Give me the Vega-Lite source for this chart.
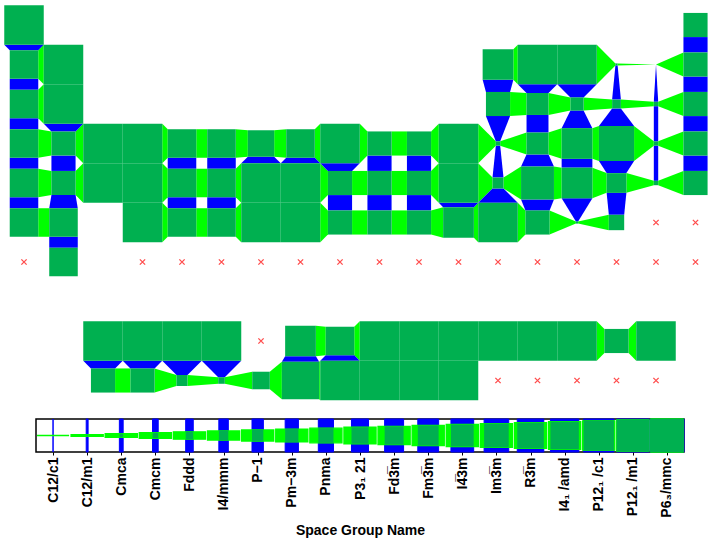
{
  "$schema": "https://vega.github.io/schema/vega-lite/v6.json",
  "padding": 0,
  "config": {"view": {"stroke": null}, "font": "Liberation Sans"},
  "datasets": {
    "sgs": [
      {"sg": "C12/c1", "k": 0}, {"sg": "C12/m1", "k": 1}, {"sg": "Cmca", "k": 2}, {"sg": "Cmcm", "k": 3},
      {"sg": "Fddd", "k": 4}, {"sg": "I4/mmm", "k": 5}, {"sg": "P-1", "k": 6}, {"sg": "Pm-3m", "k": 7},
      {"sg": "Pnma", "k": 8}, {"sg": "P3_121", "k": 9}, {"sg": "Fd-3m", "k": 10}, {"sg": "Fm-3m", "k": 11},
      {"sg": "I-43m", "k": 12}, {"sg": "Im-3m", "k": 13}, {"sg": "R-3m", "k": 14}, {"sg": "I4_1/amd", "k": 15},
      {"sg": "P12_1/c1", "k": 16}, {"sg": "P12_1/m1", "k": 17}, {"sg": "P6_3/mmc", "k": 18}
    ],
    "el": [
      {"e": "H", "c": 1, "r": 1, "sg": "P6_3/mmc"},
      {"e": "He", "c": 18, "r": 1, "sg": "Fm-3m"},
      {"e": "Li", "c": 1, "r": 2, "sg": "Im-3m"},
      {"e": "Be", "c": 2, "r": 2, "sg": "P6_3/mmc"},
      {"e": "B", "c": 13, "r": 2, "sg": "R-3m"},
      {"e": "C", "c": 14, "r": 2, "sg": "P6_3/mmc"},
      {"e": "N", "c": 15, "r": 2, "sg": "P6_3/mmc"},
      {"e": "O", "c": 16, "r": 2, "sg": "C12/m1"},
      {"e": "F", "c": 17, "r": 2, "sg": "C12/c1"},
      {"e": "Ne", "c": 18, "r": 2, "sg": "Fm-3m"},
      {"e": "Na", "c": 1, "r": 3, "sg": "Im-3m"},
      {"e": "Mg", "c": 2, "r": 3, "sg": "P6_3/mmc"},
      {"e": "Al", "c": 13, "r": 3, "sg": "Fm-3m"},
      {"e": "Si", "c": 14, "r": 3, "sg": "Fd-3m"},
      {"e": "P", "c": 15, "r": 3, "sg": "P-1"},
      {"e": "S", "c": 16, "r": 3, "sg": "Fddd"},
      {"e": "Cl", "c": 17, "r": 3, "sg": "Cmca"},
      {"e": "Ar", "c": 18, "r": 3, "sg": "Fm-3m"},
      {"e": "K", "c": 1, "r": 4, "sg": "Im-3m"},
      {"e": "Ca", "c": 2, "r": 4, "sg": "Fm-3m"},
      {"e": "Sc", "c": 3, "r": 4, "sg": "P6_3/mmc"},
      {"e": "Ti", "c": 4, "r": 4, "sg": "P6_3/mmc"},
      {"e": "V", "c": 5, "r": 4, "sg": "Im-3m"},
      {"e": "Cr", "c": 6, "r": 4, "sg": "Im-3m"},
      {"e": "Mn", "c": 7, "r": 4, "sg": "I-43m"},
      {"e": "Fe", "c": 8, "r": 4, "sg": "Im-3m"},
      {"e": "Co", "c": 9, "r": 4, "sg": "P6_3/mmc"},
      {"e": "Ni", "c": 10, "r": 4, "sg": "Fm-3m"},
      {"e": "Cu", "c": 11, "r": 4, "sg": "Fm-3m"},
      {"e": "Zn", "c": 12, "r": 4, "sg": "P6_3/mmc"},
      {"e": "Ga", "c": 13, "r": 4, "sg": "Cmca"},
      {"e": "Ge", "c": 14, "r": 4, "sg": "Fd-3m"},
      {"e": "As", "c": 15, "r": 4, "sg": "R-3m"},
      {"e": "Se", "c": 16, "r": 4, "sg": "P12_1/c1"},
      {"e": "Br", "c": 17, "r": 4, "sg": "Cmca"},
      {"e": "Kr", "c": 18, "r": 4, "sg": "Fm-3m"},
      {"e": "Rb", "c": 1, "r": 5, "sg": "Im-3m"},
      {"e": "Sr", "c": 2, "r": 5, "sg": "Fm-3m"},
      {"e": "Y", "c": 3, "r": 5, "sg": "P6_3/mmc"},
      {"e": "Zr", "c": 4, "r": 5, "sg": "P6_3/mmc"},
      {"e": "Nb", "c": 5, "r": 5, "sg": "Im-3m"},
      {"e": "Mo", "c": 6, "r": 5, "sg": "Im-3m"},
      {"e": "Tc", "c": 7, "r": 5, "sg": "P6_3/mmc"},
      {"e": "Ru", "c": 8, "r": 5, "sg": "P6_3/mmc"},
      {"e": "Rh", "c": 9, "r": 5, "sg": "Fm-3m"},
      {"e": "Pd", "c": 10, "r": 5, "sg": "Fm-3m"},
      {"e": "Ag", "c": 11, "r": 5, "sg": "Fm-3m"},
      {"e": "Cd", "c": 12, "r": 5, "sg": "P6_3/mmc"},
      {"e": "In", "c": 13, "r": 5, "sg": "I4/mmm"},
      {"e": "Sn", "c": 14, "r": 5, "sg": "I4_1/amd"},
      {"e": "Sb", "c": 15, "r": 5, "sg": "R-3m"},
      {"e": "Te", "c": 16, "r": 5, "sg": "P3_121"},
      {"e": "I", "c": 17, "r": 5, "sg": "Cmca"},
      {"e": "Xe", "c": 18, "r": 5, "sg": "Fm-3m"},
      {"e": "Cs", "c": 1, "r": 6, "sg": "Im-3m"},
      {"e": "Ba", "c": 2, "r": 6, "sg": "Im-3m"},
      {"e": "Hf", "c": 4, "r": 6, "sg": "P6_3/mmc"},
      {"e": "Ta", "c": 5, "r": 6, "sg": "Im-3m"},
      {"e": "W", "c": 6, "r": 6, "sg": "Im-3m"},
      {"e": "Re", "c": 7, "r": 6, "sg": "P6_3/mmc"},
      {"e": "Os", "c": 8, "r": 6, "sg": "P6_3/mmc"},
      {"e": "Ir", "c": 9, "r": 6, "sg": "Fm-3m"},
      {"e": "Pt", "c": 10, "r": 6, "sg": "Fm-3m"},
      {"e": "Au", "c": 11, "r": 6, "sg": "Fm-3m"},
      {"e": "Hg", "c": 12, "r": 6, "sg": "R-3m"},
      {"e": "Tl", "c": 13, "r": 6, "sg": "P6_3/mmc"},
      {"e": "Pb", "c": 14, "r": 6, "sg": "Fm-3m"},
      {"e": "Bi", "c": 15, "r": 6, "sg": "C12/m1"},
      {"e": "Po", "c": 16, "r": 6, "sg": "Pm-3m"},
      {"e": "Ra", "c": 2, "r": 7, "sg": "Im-3m"},
      {"e": "La", "c": 3, "r": 9, "sg": "P6_3/mmc"},
      {"e": "Ce", "c": 4, "r": 9, "sg": "P6_3/mmc"},
      {"e": "Pr", "c": 5, "r": 9, "sg": "P6_3/mmc"},
      {"e": "Nd", "c": 6, "r": 9, "sg": "P6_3/mmc"},
      {"e": "Sm", "c": 8, "r": 9, "sg": "R-3m"},
      {"e": "Eu", "c": 9, "r": 9, "sg": "Im-3m"},
      {"e": "Gd", "c": 10, "r": 9, "sg": "P6_3/mmc"},
      {"e": "Tb", "c": 11, "r": 9, "sg": "P6_3/mmc"},
      {"e": "Dy", "c": 12, "r": 9, "sg": "P6_3/mmc"},
      {"e": "Ho", "c": 13, "r": 9, "sg": "P6_3/mmc"},
      {"e": "Er", "c": 14, "r": 9, "sg": "P6_3/mmc"},
      {"e": "Tm", "c": 15, "r": 9, "sg": "P6_3/mmc"},
      {"e": "Yb", "c": 16, "r": 9, "sg": "Fm-3m"},
      {"e": "Lu", "c": 17, "r": 9, "sg": "P6_3/mmc"},
      {"e": "Ac", "c": 3, "r": 10, "sg": "Fm-3m"},
      {"e": "Th", "c": 4, "r": 10, "sg": "Fm-3m"},
      {"e": "Pa", "c": 5, "r": 10, "sg": "I4/mmm"},
      {"e": "U", "c": 6, "r": 10, "sg": "Cmcm"},
      {"e": "Np", "c": 7, "r": 10, "sg": "Pnma"},
      {"e": "Pu", "c": 8, "r": 10, "sg": "P12_1/m1"},
      {"e": "Am", "c": 9, "r": 10, "sg": "P6_3/mmc"},
      {"e": "Cm", "c": 10, "r": 10, "sg": "P6_3/mmc"},
      {"e": "Bk", "c": 11, "r": 10, "sg": "P6_3/mmc"},
      {"e": "Cf", "c": 12, "r": 10, "sg": "P6_3/mmc"}
    ],
    "miss": [
      {"e": "At", "c": 17, "r": 6}, {"e": "Rn", "c": 18, "r": 6},
      {"e": "Fr", "c": 1, "r": 7}, {"e": "Rf", "c": 4, "r": 7}, {"e": "Db", "c": 5, "r": 7},
      {"e": "Sg", "c": 6, "r": 7}, {"e": "Bh", "c": 7, "r": 7}, {"e": "Hs", "c": 8, "r": 7},
      {"e": "Mt", "c": 9, "r": 7}, {"e": "Ds", "c": 10, "r": 7}, {"e": "Rg", "c": 11, "r": 7},
      {"e": "Cn", "c": 12, "r": 7}, {"e": "Nh", "c": 13, "r": 7}, {"e": "Fl", "c": 14, "r": 7},
      {"e": "Mc", "c": 15, "r": 7}, {"e": "Lv", "c": 16, "r": 7}, {"e": "Ts", "c": 17, "r": 7},
      {"e": "Og", "c": 18, "r": 7},
      {"e": "Pm", "c": 7, "r": 9},
      {"e": "Es", "c": 13, "r": 10}, {"e": "Fm", "c": 14, "r": 10}, {"e": "Md", "c": 15, "r": 10},
      {"e": "No", "c": 16, "r": 10}, {"e": "Lr", "c": 17, "r": 10}
    ]
  },
  "vconcat": [
    {
      "width": 720,
      "height": 405,
      "layer": [
        {
          "data": {"name": "el"},
          "transform": [
            {"lookup": "sg", "from": {"data": {"name": "sgs"}, "key": "sg", "fields": ["k"]}},
            {"window": [{"op": "lead", "field": "c", "as": "c2"}, {"op": "lead", "field": "k", "as": "k2"}], "groupby": ["r"], "sort": [{"field": "c", "order": "ascending"}]},
            {"filter": "datum.c2 == datum.c + 1"},
            {"calculate": "datum.c + datum.k / 36", "as": "xa"},
            {"calculate": "datum.c2 - datum.k2 / 36", "as": "xb"},
            {"fold": ["xa", "xb"], "as": ["end", "xv"]},
            {"calculate": "(datum.end == 'xa' ? datum.k : datum.k2) / 36", "as": "h"},
            {"calculate": "datum.r - datum.h", "as": "ya"},
            {"calculate": "datum.r + datum.h", "as": "yb"}
          ],
          "mark": {"type": "area", "orient": "vertical", "color": "#00ff00", "opacity": 1},
          "encoding": {
            "x": {"field": "xv", "type": "quantitative", "scale": {"domain": [0.3924, 18.62], "nice": false, "zero": false}, "axis": null},
            "y": {"field": "ya", "type": "quantitative", "stack": null, "scale": {"domain": [0.3671, 10.6203], "nice": false, "zero": false, "reverse": true}, "axis": null},
            "y2": {"field": "yb"},
            "detail": {"field": "e"}
          }
        },
        {
          "data": {"name": "el"},
          "transform": [
            {"lookup": "sg", "from": {"data": {"name": "sgs"}, "key": "sg", "fields": ["k"]}},
            {"window": [{"op": "lead", "field": "r", "as": "r2"}, {"op": "lead", "field": "k", "as": "k2"}], "groupby": ["c"], "sort": [{"field": "r", "order": "ascending"}]},
            {"filter": "datum.r2 == datum.r + 1"},
            {"calculate": "datum.r + datum.k / 36", "as": "ya"},
            {"calculate": "datum.r2 - datum.k2 / 36", "as": "yb"},
            {"fold": ["ya", "yb"], "as": ["end", "yv"]},
            {"calculate": "(datum.end == 'ya' ? datum.k : datum.k2) / 36", "as": "h"},
            {"calculate": "datum.c - datum.h", "as": "xa"},
            {"calculate": "datum.c + datum.h", "as": "xb"}
          ],
          "mark": {"type": "area", "orient": "horizontal", "color": "#0000ff", "opacity": 1},
          "encoding": {
            "y": {"field": "yv", "type": "quantitative", "scale": {"domain": [0.3671, 10.6203], "nice": false, "zero": false, "reverse": true}, "axis": null},
            "x": {"field": "xa", "type": "quantitative", "stack": null, "scale": {"domain": [0.3924, 18.62], "nice": false, "zero": false}, "axis": null},
            "x2": {"field": "xb"},
            "detail": {"field": "e"}
          }
        },
        {
          "data": {"name": "el"},
          "transform": [
            {"lookup": "sg", "from": {"data": {"name": "sgs"}, "key": "sg", "fields": ["k"]}},
            {"calculate": "datum.k / 36", "as": "h"},
            {"calculate": "datum.c - datum.h", "as": "x0"},
            {"calculate": "datum.c + datum.h", "as": "x1"},
            {"calculate": "datum.r - datum.h", "as": "y0"},
            {"calculate": "datum.r + datum.h", "as": "y1"}
          ],
          "mark": {"type": "rect", "color": "#00b050", "opacity": 1},
          "encoding": {
            "x": {"field": "x0", "type": "quantitative", "scale": {"domain": [0.3924, 18.62], "nice": false, "zero": false}, "axis": null},
            "x2": {"field": "x1"},
            "y": {"field": "y0", "type": "quantitative", "scale": {"domain": [0.3671, 10.6203], "nice": false, "zero": false, "reverse": true}, "axis": null},
            "y2": {"field": "y1"}
          }
        },
        {
          "data": {"name": "miss"},
          "mark": {"type": "point", "shape": "M-1,-1L1,1M1,-1L-1,1", "size": 28, "filled": false, "stroke": "#ff4d4d", "strokeWidth": 1.3, "opacity": 1},
          "encoding": {
            "x": {"field": "c", "type": "quantitative", "scale": {"domain": [0.3924, 18.62], "nice": false, "zero": false}, "axis": null},
            "y": {"field": "r", "type": "quantitative", "scale": {"domain": [0.3671, 10.6203], "nice": false, "zero": false, "reverse": true}, "axis": null}
          }
        }
      ]
    },
    {
      "width": 648,
      "height": 33,
      "view": {"stroke": "black", "strokeWidth": 1.5},
      "data": {"name": "sgs"},
      "encoding": {
        "x": {
          "field": "x0", "type": "quantitative",
          "scale": {"domain": [-0.5, 18.5], "nice": false, "zero": false},
          "axis": {
            "values": [0, 1, 2, 3, 4, 5, 6, 7, 8, 9, 10, 11, 12, 13, 14, 15, 16, 17, 18],
            "labelExpr": "['C12/c1', 'C12/m1', 'Cmca', 'Cmcm', 'Fddd', 'I4/mmm', 'P\u22121', 'Pm\u22123m', 'Pnma', 'P3\u2081 21', 'Fd3\u0305m', 'Fm3\u0305m', 'I4\u03053m', 'Im3\u0305m', 'R3\u0305m', 'I4\u2081 /amd', 'P12\u2081 /c1', 'P12\u2081 /m1', 'P6\u2083/mmc'][datum.value]",
            "labelAngle": 270,
            "labelFontSize": 14,
            "labelFontWeight": "bold",
            "labelColor": "black",
            "labelPadding": 2,
            "labelOverlap": false,
            "labelFlush": false,
            "tickColor": "black",
            "tickSize": 3,
            "domain": false,
            "grid": false,
            "title": "Space Group Name",
            "titleFontSize": 14,
            "titleFontWeight": "bold",
            "titleColor": "black",
            "titlePadding": 6
          }
        },
        "x2": {"field": "x1"},
        "y": {"field": "y0", "type": "quantitative", "scale": {"domain": [-0.5, 0.5], "nice": false, "zero": false}, "axis": null},
        "y2": {"field": "y1"}
      },
      "layer": [
        {
          "transform": [
            {"calculate": "datum.k / 36", "as": "h"},
            {"calculate": "datum.k - datum.h", "as": "x0"},
            {"calculate": "datum.k + datum.h", "as": "x1"},
            {"calculate": "-0.5", "as": "y0"},
            {"calculate": "0.5", "as": "y1"}
          ],
          "mark": {"type": "rect", "color": "#0000ff", "stroke": "#0000ff", "strokeWidth": 1, "opacity": 1}
        },
        {
          "transform": [
            {"calculate": "datum.k / 36", "as": "h"},
            {"calculate": "datum.k - 0.47", "as": "x0"},
            {"calculate": "datum.k + 0.47", "as": "x1"},
            {"calculate": "-datum.h", "as": "y0"},
            {"calculate": "datum.h", "as": "y1"}
          ],
          "mark": {"type": "rect", "color": "#00ff00", "stroke": "#00ff00", "strokeWidth": 1.4, "opacity": 1}
        },
        {
          "transform": [
            {"calculate": "datum.k / 36", "as": "h"},
            {"calculate": "datum.k - datum.h", "as": "x0"},
            {"calculate": "datum.k + datum.h", "as": "x1"},
            {"calculate": "-datum.h", "as": "y0"},
            {"calculate": "datum.h", "as": "y1"}
          ],
          "mark": {"type": "rect", "color": "#00b050", "opacity": 1}
        }
      ]
    }
  ],
  "center": true,
  "bounds": "flush",
  "spacing": 14
}
